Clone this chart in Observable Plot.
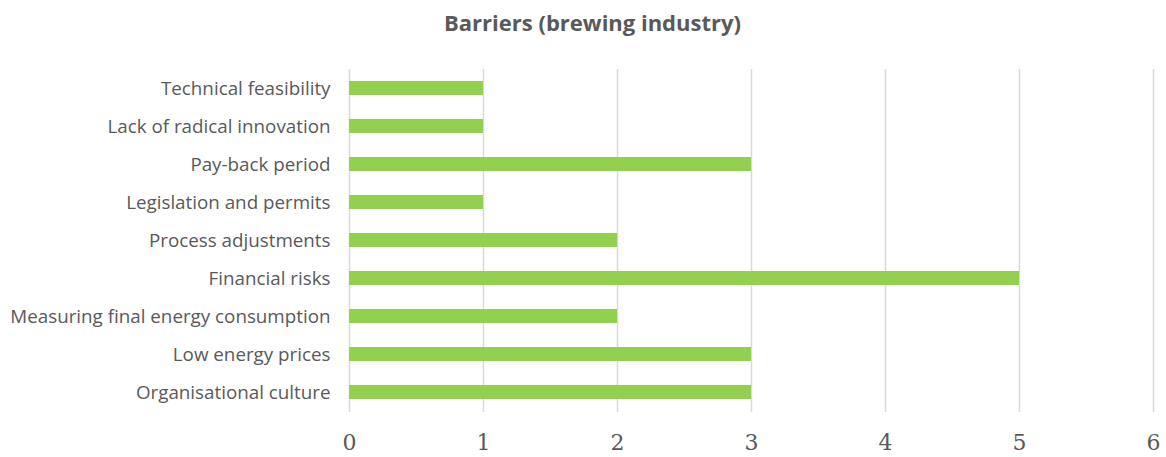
<!DOCTYPE html>
<html>
<head>
<meta charset="utf-8">
<script src="https://cdn.jsdelivr.net/npm/d3@7"></script>
<script src="https://cdn.jsdelivr.net/npm/@observablehq/plot@0.6"></script>
<style>
  body { margin: 0; background: #fff; }
  #title { height: 45px; line-height: 45px; text-align: center; font-family: "Open Sans", sans-serif; font-weight: bold; font-size: 22px; color: #595959; padding-left: 19px; }
</style>
</head>
<body>
<div id="title">Barriers (brewing industry)</div>
<div id="chart"></div>
<script>
const categories = [
  "Technical feasibility",
  "Lack of radical innovation",
  "Pay-back period",
  "Legislation and permits",
  "Process adjustments",
  "Financial risks",
  "Measuring final energy consumption",
  "Low energy prices",
  "Organisational culture"
];
const values = [1, 1, 3, 1, 2, 5, 2, 3, 3];
const xTicks = [0, 1, 2, 3, 4, 5, 6];

const data = categories.map((c, i) => ({ category: c, value: values[i] }));

const chart = Plot.plot({
  width: 1166,
  height: 412,
  marginTop: 24,
  marginBottom: 45,
  marginLeft: 349,
  marginRight: 13,
  x: { domain: [0, 6], ticks: xTicks, label: null },
  y: { domain: categories, paddingInner: 0.63, paddingOuter: 0.315, label: null },
  marks: [
    Plot.ruleX(xTicks, { stroke: "#d9d9d9", strokeWidth: 1.5 }),
    Plot.barX(data, { x: "value", y: "category", fill: "#92d050" }),
    Plot.axisX({ ticks: xTicks, tickFormat: d => String(d), tickSize: 0, tickPadding: 22, fontSize: 22, fontFamily: "DejaVu Serif", fill: "#595959", label: null }),
    Plot.axisY({ tickSize: 0, tickPadding: 19, fontSize: 18.8, fontFamily: "Open Sans", fill: "#595959", label: null })
  ]
});
document.getElementById("chart").appendChild(chart);
</script>
</body>
</html>
